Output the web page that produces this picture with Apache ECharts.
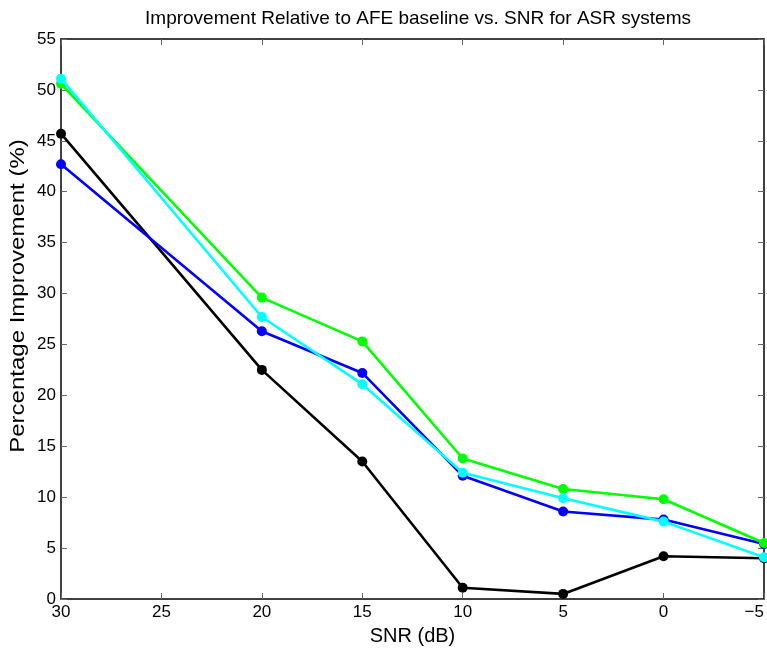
<!DOCTYPE html>
<html>
<head>
<meta charset="utf-8">
<script src="https://cdn.jsdelivr.net/npm/echarts@6/dist/echarts.min.js"></script>
<style>html,body{margin:0;padding:0;background:#fff;}#c{width:767px;height:648px;}</style>
</head>
<body>
<div id="c"></div>
<script>
var snr = [30, 20, 15, 10, 5, 0, -5];
var blackVals = [45.7, 22.5, 13.5, 1.1, 0.5, 4.2, 4.0];
var blueVals  = [42.7, 26.3, 22.2, 12.1, 8.6, 7.8, 5.4];
var greenVals = [50.6, 29.6, 25.3, 13.8, 10.8, 9.8, 5.5];
var cyanVals  = [51.1, 27.7, 21.1, 12.4, 9.9, 7.6, 4.1];
var titleText = 'Improvement Relative to AFE baseline vs. SNR for ASR systems';
var xName = 'SNR (dB)';
var yName = 'Percentage Improvement (%)';

function pairs(v){ return snr.map(function(s,i){ return [s, v[i]]; }); }
var font = 'Liberation Sans, Arial, sans-serif';
var chart = echarts.init(document.getElementById('c'), null, {renderer:'canvas'});
function mkSeries(vals, color, z){
  return {type:'line', data:pairs(vals), xAxisIndex:0, yAxisIndex:0, symbol:'circle', symbolSize:10,
    lineStyle:{color:color, width:2.6}, itemStyle:{color:color}, z:z, animation:false};
}
chart.setOption({
  animation:false,
  title:{text:titleText, left:413, textAlign:'center', top:4, textStyle:{fontFamily:font, fontSize:19, fontWeight:'normal', color:'#000'}},
  grid:{left:61, right:3, top:39, bottom:49, show:false, containLabel:false, outerBoundsMode:'none'},
  graphic:[
    {type:'text', x:18, y:296, rotation:Math.PI/2, scaleX:1.2, silent:true,
     style:{text:yName, font:'20px Liberation Sans, Arial, sans-serif', fill:'#000', align:'center', verticalAlign:'middle'}}
  ],
  xAxis:[
    {type:'value', inverse:true, min:-5, max:30, interval:5, position:'bottom',
     name:xName, nameLocation:'middle', nameGap:27, nameTextStyle:{fontFamily:font, fontSize:20, color:'#000'},
     axisLine:{show:true, onZero:false, lineStyle:{color:'#000', width:1.5}},
     axisTick:{show:true, inside:true, length:6, lineStyle:{color:'#666'}},
     axisLabel:{fontFamily:font, fontSize:17, color:'#000', margin:5, alignMinLabel:'right',
       formatter:function(v){return String(v).replace('-', '\u2212');}},
     splitLine:{show:false}},
    {type:'value', inverse:true, min:-5, max:30, interval:5, position:'top',
     axisLine:{show:true, onZero:false, lineStyle:{color:'#000', width:1.5}},
     axisTick:{show:true, inside:true, length:6, lineStyle:{color:'#666'}},
     axisLabel:{show:false}, splitLine:{show:false}}
  ],
  yAxis:[
    {type:'value', min:0, max:55, interval:5, position:'left',
     axisLine:{show:true, onZero:false, lineStyle:{color:'#000', width:1.5}},
     axisTick:{show:true, inside:true, length:6, lineStyle:{color:'#666'}},
     axisLabel:{fontFamily:font, fontSize:17, color:'#000', margin:5},
     splitLine:{show:false}},
    {type:'value', min:0, max:55, interval:5, position:'right',
     axisLine:{show:true, onZero:false, lineStyle:{color:'#000', width:1.5}},
     axisTick:{show:true, inside:true, length:6, lineStyle:{color:'#666'}},
     axisLabel:{show:false}, splitLine:{show:false}}
  ],
  series:[
    mkSeries(blackVals, '#000000', 2),
    mkSeries(blueVals, '#0000ff', 3),
    mkSeries(greenVals, '#00ff00', 4),
    mkSeries(cyanVals, '#00ffff', 5)
  ]
});
</script>
</body>
</html>
